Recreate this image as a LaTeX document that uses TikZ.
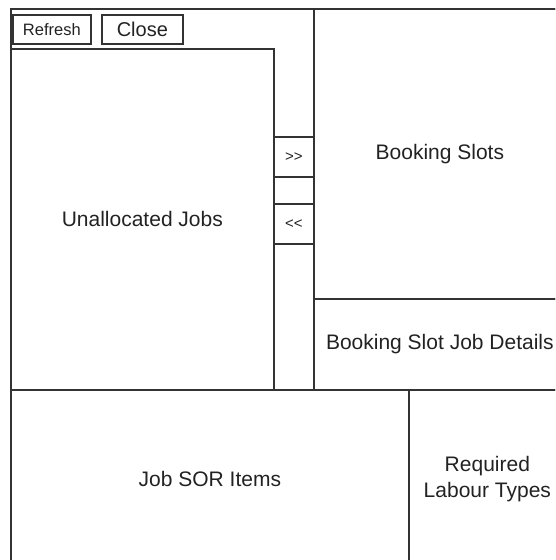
\documentclass[tikz,border=0pt]{standalone}
\usepackage{fontspec}
\setmainfont{Liberation Sans}
\definecolor{ln}{HTML}{333333}
\definecolor{tx}{HTML}{222222}
\tikzset{
  pane/.style={draw=ln, line width=1.7pt, rectangle, inner sep=0pt, anchor=north west, align=center, text=tx, font=\fontsize{21pt}{26pt}\selectfont},
}
\begin{document}
\begin{tikzpicture}[x=1pt,y=-1pt]
\useasboundingbox (0,0) rectangle (555,560);
\clip (0,0) rectangle (555,560);
\node[pane, minimum width=555pt, minimum height=559pt] (frame) at (10,8) {};
\node[pane, minimum width=303pt, minimum height=381pt] (left) at (10,8) {};
\node[pane, minimum width=263pt, minimum height=341pt] (unalloc) at (10,48) {Unallocated Jobs};
\node[pane, minimum width=78pt, minimum height=29pt, font=\fontsize{16.5pt}{20pt}\selectfont] (refresh) at (12,14) {Refresh};
\node[pane, minimum width=81pt, minimum height=29pt, font=\fontsize{20pt}{24pt}\selectfont] (close) at (101,14) {Close};
\node[pane, minimum width=40pt, minimum height=40pt, font=\fontsize{15pt}{18pt}\selectfont] (fwd) at (273,136) {{>}{>}};
\node[pane, minimum width=40pt, minimum height=40pt, font=\fontsize{15pt}{18pt}\selectfont] (back) at (273,203) {{<}{<}};
\node[pane, minimum width=252pt, minimum height=290pt] (slots) at (313,8) {Booking Slots};
\node[pane, minimum width=252pt, minimum height=91pt] (details) at (313,298) {Booking Slot Job Details};
\node[pane, minimum width=398pt, minimum height=178pt] (sor) at (10,389) {Job SOR Items};
\node[pane, minimum width=157pt, minimum height=178pt] (labour) at (408,389) {Required\\Labour Types};
\end{tikzpicture}
\end{document}
